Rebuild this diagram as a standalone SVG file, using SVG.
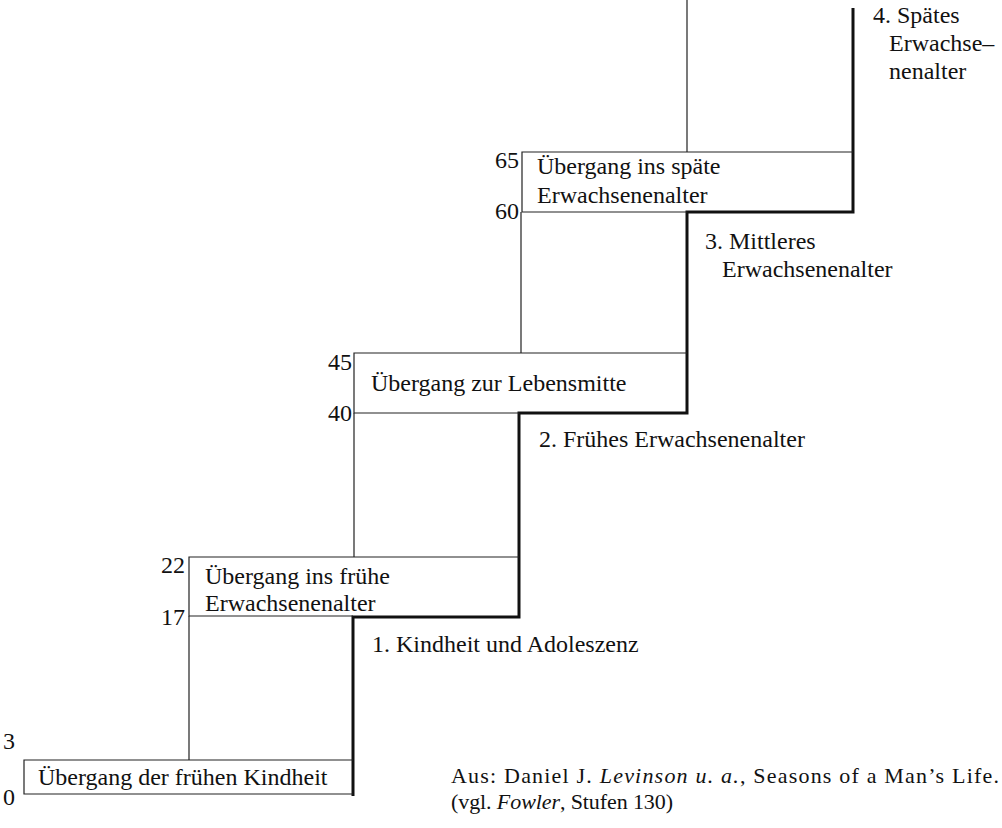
<svg xmlns="http://www.w3.org/2000/svg" width="1002" height="828" viewBox="0 0 1002 828">
<style>
text{font-family:"Liberation Serif","Times New Roman",serif;font-size:24px;fill:#111}
.foot{font-size:22px}
.thin{stroke:#222;stroke-width:1.2;fill:none}
.thick{stroke:#111;stroke-width:3;fill:none;stroke-linejoin:miter}
</style>
<rect width="1002" height="828" fill="#fff"/>
<g id="connectors">
<path class="thin" d="M189 760V616M354 557V413M521 353V212M687 0V152"/>
<path class="thick" d="M353 796V617H519V413H687V212H853V8"/>
</g>
<g id="box1">
<path class="thin" d="M353 760H24V794H353"/>
<text x="38" y="785">Übergang der frühen Kindheit</text>
<text x="3" y="749">3</text><text x="3" y="805">0</text>
</g>
<g id="box2">
<path class="thin" d="M519 557H189V616H353"/>
<text x="205" y="584">Übergang ins frühe</text>
<text x="205" y="611">Erwachsenenalter</text>
<text x="161" y="573">22</text><text x="161" y="625">17</text>
</g>
<g id="box3">
<path class="thin" d="M687 353H354V413H519"/>
<text x="371" y="391">Übergang zur Lebensmitte</text>
<text x="328" y="370">45</text><text x="328" y="421">40</text>
</g>
<g id="box4">
<path class="thin" d="M853 152H522V212H687"/>
<text x="537" y="174">Übergang ins späte</text>
<text x="537" y="203">Erwachsenenalter</text>
<text x="495" y="168">65</text><text x="495" y="219">60</text>
</g>
<g id="stage1"><text x="372" y="652">1. Kindheit und Adoleszenz</text></g>
<g id="stage2"><text x="539" y="447">2. Frühes Erwachsenenalter</text></g>
<g id="stage3"><text x="705" y="249">3. Mittleres</text><text x="722" y="277">Erwachsenenalter</text></g>
<g id="stage4"><text x="873" y="23">4. Spätes</text><text x="889" y="51">Erwachse–</text><text x="889" y="79">nenalter</text></g>
<g id="source">
<text class="foot" x="451" y="783" textLength="548" lengthAdjust="spacing">Aus: Daniel J. <tspan font-style="italic">Levinson u. a.</tspan>, Seasons of a Man’s Life.</text>
<text class="foot" x="451" y="809" textLength="222" lengthAdjust="spacing">(vgl. <tspan font-style="italic">Fowler</tspan>, Stufen 130)</text>
</g>
</svg>
